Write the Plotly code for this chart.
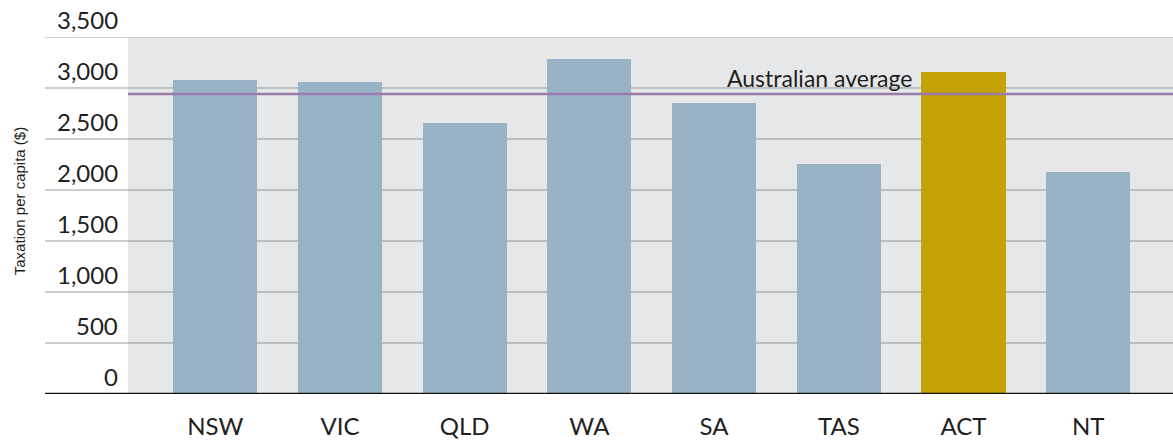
import plotly.graph_objects as go

states = ["NSW", "VIC", "QLD", "WA", "SA", "TAS", "ACT", "NT"]
tax_per_capita = [3075, 3060, 2655, 3285, 2855, 2255, 3160, 2175]
australian_average = 2940
y_ticks = [0, 500, 1000, 1500, 2000, 2500, 3000, 3500]
y_tick_labels = ["0", "500", "1,000", "1,500", "2,000", "2,500", "3,000", "3,500"]

W, H = 1173, 443
ML, MR, MT, MB = 128, 0, 37, 49
PW = W - ML - MR

BLUE = "#99B3C6"
GOLD = "#C4A204"
TXT = "#231F20"
FONT = "Lato"

colors = [GOLD if s == "ACT" else BLUE for s in states]

fig = go.Figure()
fig.add_trace(go.Bar(
    x=list(range(len(states))), y=tax_per_capita,
    marker=dict(color=colors, line=dict(width=0)),
    width=0.674, hoverinfo="skip",
))

def px_to_paper_x(px):
    return (px - ML) / PW

shapes = []
for v in y_ticks[1:]:
    shapes.append(dict(type="line", xref="paper", yref="y",
                       x0=px_to_paper_x(45), x1=1, y0=v, y1=v,
                       line=dict(color="#BDBEC0", width=1.5), layer="below"))
shapes.append(dict(type="line", xref="paper", yref="y", x0=0, x1=1,
                   y0=australian_average, y1=australian_average,
                   line=dict(color="#9B7BAC", width=2.5), layer="above"))
shapes.append(dict(type="line", xref="paper", yref="y",
                   x0=px_to_paper_x(45), x1=1, y0=0, y1=0,
                   line=dict(color="#111111", width=2.5), layer="above"))

annotations = []
for v, lab in zip(y_ticks, y_tick_labels):
    annotations.append(dict(xref="paper", yref="y", x=px_to_paper_x(120), y=v,
                            text=lab, showarrow=False, xanchor="right",
                            yanchor="bottom", yshift=1,
                            font=dict(family=FONT, size=24, color=TXT)))
annotations.append(dict(xref="x", yref="y", x=5.6, y=australian_average,
                        text="Australian average", showarrow=False,
                        xanchor="right", yanchor="bottom", yshift=0,
                        font=dict(family=FONT, size=23, color=TXT)))
annotations.append(dict(xref="paper", yref="paper", x=px_to_paper_x(19), y=0.54,
                        text="Taxation per capita ($)", showarrow=False,
                        textangle=-90, xanchor="center", yanchor="middle",
                        font=dict(family="Liberation Sans", size=15, color=TXT)))

fig.update_layout(
    width=W, height=H,
    margin=dict(l=ML, r=MR, t=MT, b=MB, pad=0),
    paper_bgcolor="white", plot_bgcolor="#E6E7E9",
    showlegend=False, bargap=0,
    shapes=shapes, annotations=annotations,
    xaxis=dict(range=[-0.7, 7.68], tickmode="array",
               tickvals=list(range(len(states))), ticktext=states,
               showgrid=False, zeroline=False, showline=False,
               ticks="", ticklabelstandoff=16,
               tickfont=dict(family=FONT, size=24, color=TXT), fixedrange=True),
    yaxis=dict(range=[0, 3500], tickvals=y_ticks, showticklabels=False,
               showgrid=True, gridcolor="#BDBEC0", gridwidth=1.5,
               zeroline=False, showline=False, ticks="", fixedrange=True),
)

fig.write_html("out.html", config={"displayModeBar": False},
               post_script="document.body.style.margin='0';document.body.style.overflow='hidden';")
